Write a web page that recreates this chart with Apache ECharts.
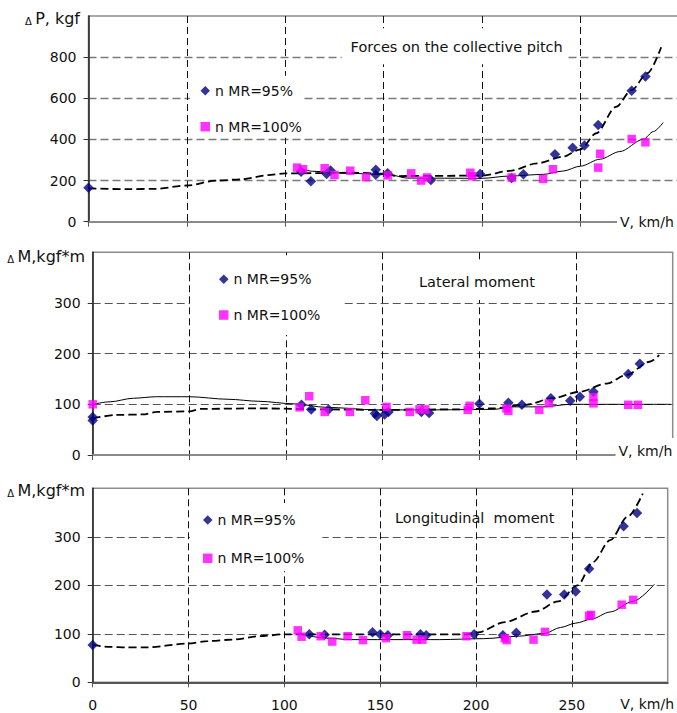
<!DOCTYPE html>
<html>
<head>
<meta charset="utf-8">
<script src="https://cdn.jsdelivr.net/npm/echarts@6/dist/echarts.min.js"></script>
<style>
  html, body { margin: 0; padding: 0; background: #fff; }
  #chart { width: 677px; height: 713px; }
</style>
</head>
<body>
<div id="chart"></div>
<script>
// Rotor loads versus flight speed for two main-rotor speeds (95 % and 100 %).
const FONT = 'DejaVu Sans';
const seriesNames = ['n MR=95%', 'n MR=100%'];
const panelTitles = ['Forces on the collective pitch', 'Lateral moment', 'Longitudinal  moment'];
const unitLabels = ['P, kgf', 'M,kgf*m', 'M,kgf*m'];
const speedLabel = 'V, km/h';
const yMax = [1000, 400, 400];
const yStep = [200, 100, 100];

// Panel 1: collective pitch force, kgf  [V km/h, value]
const pitchPts95 = [[0,165],[108,243],[113,197],[121,232],[123,249],[146,252],[146,228],[152,235],[174,203],[199,232],[215,212],[221,231],[237,328],[246,360],[252,370],[259,470],[276,636],[283,706]];
const pitchPts100 = [[106,263],[109,255],[120,260],[125,227],[133,248],[141,216],[152,225],[164,235],[169,200],[172,215],[194,238],[195,221],[215,215],[231,208],[236,255],[259,263],[260,330],[276,402],[283,386]];
const pitchTrend95 = [[0,162],[20,158],[34,160],[50,176],[65,200],[78,206],[91,226],[100,235],[135,238],[150,233],[157,222],[200,224],[214,247],[228,284],[241,316],[250,352],[258,430],[268,558],[276,640],[284,722],[291,848]];
const pitchTrend100 = [[108,258],[114,245],[131,236],[153,228],[162,212],[200,211],[214,222],[231,230],[241,246],[250,270],[260,304],[270,341],[282,401],[287,438],[292,482]];

// Panel 2: lateral moment, kgf*m
const latPts95 = [[0,75],[0,68],[108,99],[113,90],[122,90],[146,82],[147,77],[151,80],[153,85],[170,85],[174,83],[200,101],[215,103],[222,99],[237,112],[247,107],[252,115],[259,125],[277,160],[283,180]];
const latPts100 = [[0,100],[107,94],[112,116],[120,85],[133,85],[141,108],[152,95],[164,85],[169,90],[172,90],[194,89],[195,97],[214,92],[215,87],[231,89],[236,102],[259,114],[259,102],[277,99],[282,99]];
const latTrend95 = [[0,72],[12,79],[26,80],[33,85],[50,86],[56,91],[86,92],[121,90],[147,89],[190,90],[207,92],[224,99],[238,112],[252,125],[266,141],[276,158],[288,184],[293,197]];
const latTrend100 = [[0,100],[9,105],[21,112],[33,115],[50,115],[70,110],[86,106],[104,101],[121,94],[147,89],[173,89],[207,90],[218,95],[233,95],[247,100],[299,100]];

// Panel 3: longitudinal moment, kgf*m
const lonPts95 = [[0,77],[113,99],[121,98],[146,103],[150,99],[154,97],[171,99],[174,97],[199,99],[214,97],[221,102],[237,181],[246,181],[252,187],[259,234],[277,322],[284,349]];
const lonPts100 = [[107,107],[109,94],[119,95],[125,84],[133,95],[141,87],[153,91],[164,97],[169,88],[172,88],[195,95],[215,91],[216,87],[230,88],[236,104],[259,137],[260,139],[276,160],[282,170]];
const lonTrend95 = [[0,77],[9,73],[18,72],[28,72],[50,80],[60,85],[73,88],[87,95],[100,99],[195,99],[201,103],[215,124],[231,146],[243,167],[253,200],[261,248],[270,293],[279,341],[287,389]];
const lonTrend100 = [[107,101],[122,91],[135,88],[162,88],[181,88],[204,90],[222,95],[236,101],[244,113],[252,122],[260,130],[270,145],[282,167],[293,202]];

const panels = [
  { pts95: pitchPts95, pts100: pitchPts100, trend95: pitchTrend95, trend100: pitchTrend100 },
  { pts95: latPts95, pts100: latPts100, trend95: latTrend95, trend100: latTrend100 },
  { pts95: lonPts95, pts100: lonPts100, trend95: lonTrend95, trend100: lonTrend100 }
];

const grids = [
  { left: 88.5, top: 16, width: 590.4, height: 205.7 },
  { left: 92.7, top: 252.3, width: 580, height: 202.7 },
  { left: 92.7, top: 488.3, width: 575, height: 194 }
];

const textBase = { fontFamily: FONT, fontSize: 14, color: '#111' };

const option = {
  animation: false,
  backgroundColor: '#fff',
  grid: grids.map(g => Object.assign({
    show: true, borderColor: '#8c8c8c', borderWidth: 1.5,
    backgroundColor: 'transparent', containLabel: false, outerBoundsMode: 'none'
  }, g)),
  xAxis: grids.map((g, i) => ({
    type: 'value', gridIndex: i, min: 0, max: 300, interval: 50,
    axisLine: { show: true, onZero: false, lineStyle: { color: i === 2 ? '#555' : '#8a8a8a', width: 2 } },
    axisTick: { show: true, length: 5, lineStyle: { color: '#555', width: 1 } },
    axisLabel: Object.assign({ show: i === 2, showMaxLabel: false, margin: 16 }, textBase),
    splitLine: { show: true, showMinLine: false, showMaxLine: false,
      lineStyle: { type: [7, 4], color: '#111', width: 1 } }
  })),
  yAxis: grids.map((g, i) => ({
    type: 'value', gridIndex: i, min: 0, max: yMax[i], interval: yStep[i],
    axisLine: { show: true, onZero: false, lineStyle: { color: '#222', width: 1.5 } },
    axisTick: { show: true, length: 5, lineStyle: { color: '#333', width: 1 } },
    axisLabel: Object.assign({ showMaxLabel: false, margin: 12 }, textBase),
    splitLine: { show: true, showMinLine: false, showMaxLine: false,
      lineStyle: { type: [8, 4], color: i === 0 ? '#7a7a7a' : '#555', width: i === 0 ? 1.4 : 1 } }
  })),
  legend: [
    { left: 190, top: 75.7, padding: [8, 1, 4, 10.5], itemGap: 22 },
    { left: 190, top: 255.3, padding: [17, 24, 13, 29], itemGap: 21.7 },
    { left: 190, top: 503, padding: [10, 18, 6, 13], itemGap: 24.3 }
  ].map(l => Object.assign({
    orient: 'vertical', backgroundColor: '#fff', selectedMode: false,
    itemWidth: 9.5, itemHeight: 9.5,
    textStyle: Object.assign({ lineHeight: 14 }, textBase),
    data: [{ name: seriesNames[0], icon: 'diamond' }, { name: seriesNames[1], icon: 'rect' }]
  }, l)),
  title: [
    { text: panelTitles[0], left: 341.6, top: 28.2, padding: [10, 4, 9, 9], backgroundColor: '#fff' },
    { text: panelTitles[1], left: 400, top: 262, padding: [11.5, 15, 9.5, 19], backgroundColor: '#fff' },
    { text: panelTitles[2], left: 395, top: 509.3, padding: 0 }
  ].map(t => Object.assign({
    textStyle: Object.assign({ fontWeight: 'normal', lineHeight: 17 }, textBase, { fontSize: 14.5 })
  }, t)),
  graphic: [
    ...[[80, 18.3], [85, 256], [85, 490.7]].map((p, i) => ({
      type: 'text', x: p[0], y: p[1], z: 100,
      style: {
        text: '{d|Δ} {t|' + unitLabels[i] + '}', align: 'right', verticalAlign: 'middle',
        rich: {
          d: { fontFamily: FONT, fontSize: 10, fill: '#111', verticalAlign: 'bottom' },
          t: { fontFamily: FONT, fontSize: 16, fill: '#111' }
        }
      }
    })),
    { type: 'text', x: 617, y: 221.7, z: 100,
      style: { text: speedLabel, font: '14px ' + FONT, fill: '#111', verticalAlign: 'middle',
        backgroundColor: '#fff', padding: [3, 6, 3, 3] } },
    { type: 'text', x: 615.5, y: 451, z: 100,
      style: { text: speedLabel, font: '14px ' + FONT, fill: '#111', verticalAlign: 'middle',
        backgroundColor: '#fff', padding: [6, 8, 6, 3] } },
    { type: 'text', x: 674, y: 704, z: 100,
      style: { text: speedLabel, font: '14px ' + FONT, fill: '#111', align: 'right', verticalAlign: 'middle' } }
  ],
  series: []
};

panels.forEach((p, i) => {
  option.series.push(
    { type: 'line', name: 'trend95', xAxisIndex: i, yAxisIndex: i, data: p.trend95,
      smooth: 0.3, smoothMonotone: 'x', showSymbol: false, silent: true, z: 2,
      lineStyle: { color: '#000', width: 1.8, type: [8, 4], cap: 'butt' } },
    { type: 'line', name: 'trend100', xAxisIndex: i, yAxisIndex: i, data: p.trend100,
      smooth: 0.3, smoothMonotone: 'x', showSymbol: false, silent: true, z: 2,
      lineStyle: { color: '#000', width: 1 } },
    { type: 'scatter', name: seriesNames[0], xAxisIndex: i, yAxisIndex: i, data: p.pts95,
      symbol: 'diamond', symbolSize: 10.5, z: 3, itemStyle: { color: '#000080' } },
    { type: 'scatter', name: seriesNames[1], xAxisIndex: i, yAxisIndex: i, data: p.pts100,
      symbol: 'rect', symbolSize: 8.5, z: 4, itemStyle: { color: '#ff00ff' } }
  );
});

// SVG output keeps the dash pattern of the trend curves
const chart = echarts.init(document.getElementById('chart'), null, { renderer: 'svg' });
chart.setOption(option);
</script>
</body>
</html>
